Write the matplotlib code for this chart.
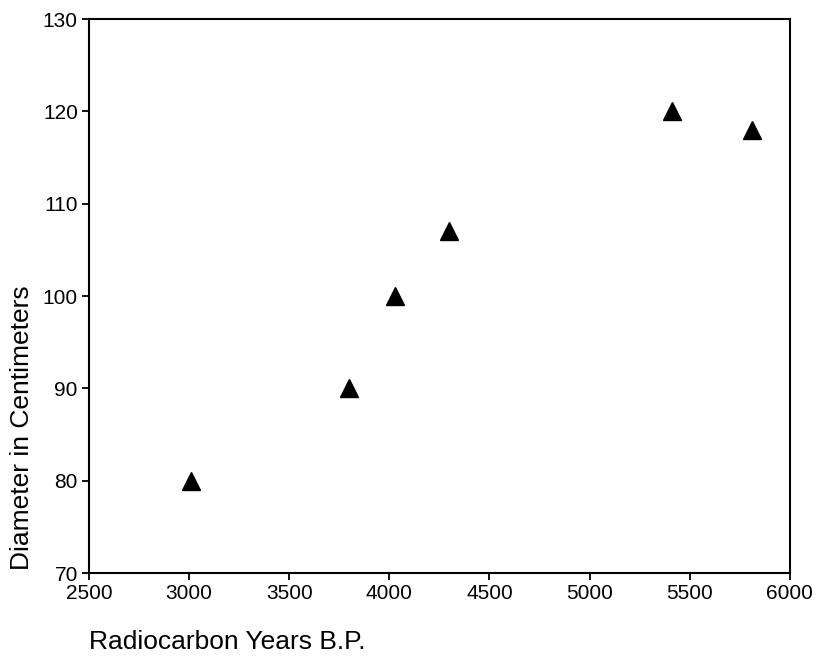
import matplotlib
matplotlib.use("Agg")
import matplotlib.pyplot as plt

# values
years_bp = [3010, 3800, 4030, 4300, 5410, 5810]
diameter_cm = [80, 90, 100, 107, 120, 118]

x_ticks = [2500, 3000, 3500, 4000, 4500, 5000, 5500, 6000]
y_ticks = [70, 80, 90, 100, 110, 120, 130]

plt.rcParams['font.family'] = ['Liberation Sans', 'DejaVu Sans']

fig = plt.figure(figsize=(8.16, 6.56), dpi=100)
ax = fig.add_axes([0.109, 0.1265, 0.859, 0.8445])

ax.plot(years_bp, diameter_cm, linestyle='none', marker='^', markersize=13, color='black')

ax.set_xlim(2500, 6000)
ax.set_ylim(70, 130)
ax.set_xticks(x_ticks)
ax.set_yticks(y_ticks)
ax.tick_params(direction='out', length=5, width=1.3, labelsize=15, pad=3)

for spine in ax.spines.values():
    spine.set_linewidth(1.5)

# axis titles placed like the original (left/bottom aligned, not centred)
ax.text(0.0, -0.137, 'Radiocarbon Years B.P.', transform=ax.transAxes,
        ha='left', va='baseline', fontsize=19)
ax.text(-0.1127, 0.005, 'Diameter in Centimeters', transform=ax.transAxes,
        rotation=90, ha='left', va='bottom', fontsize=19)

fig.savefig('out.png', dpi=100)
